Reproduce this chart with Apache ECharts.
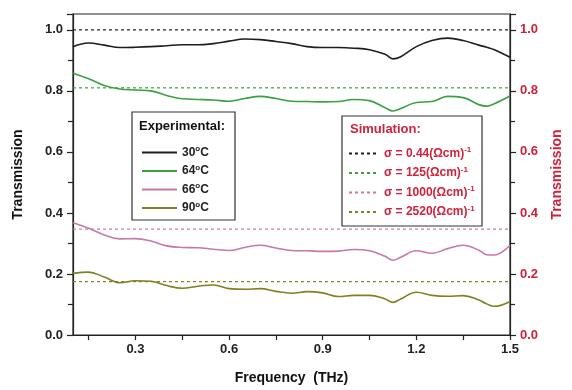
<!DOCTYPE html>
<html>
<head>
<meta charset="utf-8">
<script src="https://cdn.jsdelivr.net/npm/echarts@6/dist/echarts.min.js"></script>
<style>
  html, body { margin: 0; padding: 0; background: #fff; }
  #main { width: 572px; height: 390px; }
</style>
</head>
<body>
<div id="main"></div>
<script type="text/javascript">
// frequency (THz)
var freq = [0.1, 0.15, 0.2, 0.25, 0.3, 0.35, 0.4, 0.45, 0.5, 0.55, 0.6, 0.65, 0.7, 0.75, 0.8,
            0.85, 0.9, 0.95, 1.0, 1.05, 1.1, 1.125, 1.15, 1.2, 1.25, 1.3, 1.35, 1.4, 1.425, 1.45, 1.5];

// experimental transmission
var t30 = [0.945, 0.957, 0.950, 0.942, 0.943, 0.945, 0.948, 0.951, 0.951, 0.955, 0.963, 0.970, 0.968, 0.962, 0.955,
           0.945, 0.942, 0.942, 0.940, 0.935, 0.920, 0.905, 0.912, 0.945, 0.965, 0.973, 0.965, 0.950, 0.943, 0.935, 0.910];
var t64 = [0.858, 0.840, 0.818, 0.806, 0.803, 0.800, 0.785, 0.774, 0.772, 0.770, 0.766, 0.775, 0.782, 0.775, 0.766,
           0.765, 0.764, 0.765, 0.772, 0.768, 0.745, 0.734, 0.742, 0.762, 0.765, 0.782, 0.778, 0.755, 0.750, 0.758, 0.783];
var t66 = [0.368, 0.350, 0.328, 0.315, 0.316, 0.308, 0.292, 0.287, 0.286, 0.281, 0.277, 0.287, 0.294, 0.285, 0.277,
           0.276, 0.274, 0.275, 0.280, 0.276, 0.258, 0.245, 0.255, 0.276, 0.268, 0.283, 0.294, 0.278, 0.263, 0.262, 0.294];
var t90 = [0.202, 0.206, 0.190, 0.171, 0.178, 0.176, 0.162, 0.153, 0.160, 0.164, 0.152, 0.150, 0.152, 0.143, 0.137,
           0.142, 0.138, 0.126, 0.130, 0.130, 0.118, 0.107, 0.118, 0.140, 0.130, 0.127, 0.129, 0.115, 0.102, 0.094, 0.110];

// simulated (flat) transmission
var simValues = [1.0, 0.810, 0.347, 0.175];
var simNames = ['σ = 0.44(Ωcm){sup|-1}', 'σ = 125(Ωcm){sup|-1}', 'σ = 1000(Ωcm){sup|-1}', 'σ = 2520(Ωcm){sup|-1}'];
var expNames = ['30{sup|o}C', '64{sup|o}C', '66{sup|o}C', '90{sup|o}C'];
var expData = [t30, t64, t66, t90];

var xLabels = [0.3, 0.6, 0.9, 1.2, 1.5];
var xTicks = [0.15, 0.3, 0.45, 0.6, 0.75, 0.9, 1.05, 1.2, 1.35, 1.5];

var colors = ['#1e1e1e', '#3aa040', '#c878a8', '#808020'];
var red = '#d0223a';
var font = 'Liberation Sans, Arial, sans-serif';

function pairs(ys) {
    var out = [];
    for (var i = 0; i < freq.length; i++) out.push([freq[i], ys[i]]);
    return out;
}

var series = [];
expData.forEach(function (d, i) {
    series.push({
        name: expNames[i],
        type: 'line',
        data: pairs(d),
        smooth: 0.4,
        symbol: 'none',
        lineStyle: { color: colors[i], width: 1.6 },
        itemStyle: { color: colors[i] },
        z: 3
    });
});
simValues.forEach(function (v, i) {
    series.push({
        name: simNames[i],
        type: 'line',
        data: [[0.1, v], [1.5, v]],
        symbol: 'none',
        lineStyle: { color: colors[i], width: 1.2, type: [3, 3] },
        itemStyle: { color: colors[i] },
        z: 2
    });
});

var sup = { fontSize: 8, fontWeight: 'bold', fontFamily: font, padding: [0, 0, 7, 0] };

var option = {
    animation: false,
    grid: {
        left: 73, right: 60, top: 14, bottom: 53,
        show: true, borderColor: '#222', borderWidth: 1.2
    },
    xAxis: {
        type: 'value', min: 0.1, max: 1.5,
        name: 'Frequency  (THz)', nameLocation: 'middle', nameGap: 36,
        nameTextStyle: { fontFamily: font, fontWeight: 'bold', fontSize: 14, color: '#111' },
        axisLine: { lineStyle: { color: '#222', width: 1.2 } },
        axisTick: { customValues: xTicks, length: 5, lineStyle: { color: '#222', width: 1.2 } },
        axisLabel: {
            customValues: xLabels, margin: 8,
            fontFamily: font, fontWeight: 'bold', fontSize: 13, color: '#222',
            formatter: function (v) { return v.toFixed(1); }
        },
        splitLine: { show: false }
    },
    yAxis: [{
        type: 'value', min: 0, max: 1.052, interval: 0.2,
        name: 'Transmission', nameLocation: 'middle', nameGap: 48,
        nameTextStyle: { fontFamily: font, fontWeight: 'bold', fontSize: 14, color: '#111' },
        axisLine: { show: true, lineStyle: { color: '#222', width: 1.2 } },
        axisTick: { show: true, length: 6, lineStyle: { color: '#222', width: 1.2 } },
        minorTick: { show: true, splitNumber: 2, length: 5, lineStyle: { color: '#222', width: 1.2 } },
        axisLabel: {
            fontFamily: font, fontWeight: 'bold', fontSize: 13, color: '#222', margin: 10,
            showMaxLabel: false,
            formatter: function (v) { return v.toFixed(1); }
        },
        splitLine: { show: false }
    }, {
        type: 'value', min: 0, max: 1.052, interval: 0.2, position: 'right',
        name: 'Transmission', nameLocation: 'middle', nameGap: 40, nameRotate: 90,
        nameTextStyle: { fontFamily: font, fontWeight: 'bold', fontSize: 14, color: red },
        axisLine: { show: true, lineStyle: { color: '#222', width: 1.2 } },
        axisTick: { show: true, length: 6, lineStyle: { color: '#222', width: 1.2 } },
        minorTick: { show: true, splitNumber: 2, length: 5, lineStyle: { color: '#222', width: 1.2 } },
        axisLabel: {
            fontFamily: font, fontWeight: 'bold', fontSize: 13, color: red, margin: 10,
            showMaxLabel: false,
            formatter: function (v) { return v.toFixed(1); }
        },
        splitLine: { show: false }
    }],
    legend: [{
        data: expNames, orient: 'vertical', left: 136, top: 140, z: 50,
        itemWidth: 35, itemHeight: 14, itemGap: 5, selectedMode: false,
        itemStyle: { opacity: 0 },
        textStyle: { fontFamily: font, fontWeight: 'bold', fontSize: 12, color: '#222', rich: { sup: sup } }
    }, {
        data: simNames, orient: 'vertical', left: 343, top: 141, z: 50,
        itemWidth: 30, itemHeight: 14, itemGap: 6, selectedMode: false,
        itemStyle: { opacity: 0 },
        textStyle: { fontFamily: font, fontWeight: 'bold', fontSize: 12, color: red, rich: { sup: sup } }
    }],
    graphic: [
        { type: 'rect', shape: { x: 132, y: 112, width: 103, height: 108 },
          style: { fill: '#fff', stroke: '#333', lineWidth: 1.2 }, z: 5 },
        { type: 'text', left: 139, top: 120, z: 6,
          style: { text: 'Experimental:', fontFamily: font, fontWeight: 'bold', fontSize: 13, fill: '#111' } },
        { type: 'rect', shape: { x: 342, y: 116, width: 140, height: 110 },
          style: { fill: '#fff', stroke: '#333', lineWidth: 1.2 }, z: 5 },
        { type: 'text', left: 350, top: 123, z: 6,
          style: { text: 'Simulation:', fontFamily: font, fontWeight: 'bold', fontSize: 13, fill: red } }
    ],
    series: series
};

var chart = echarts.init(document.getElementById('main'));
chart.setOption(option);
</script>
</body>
</html>
